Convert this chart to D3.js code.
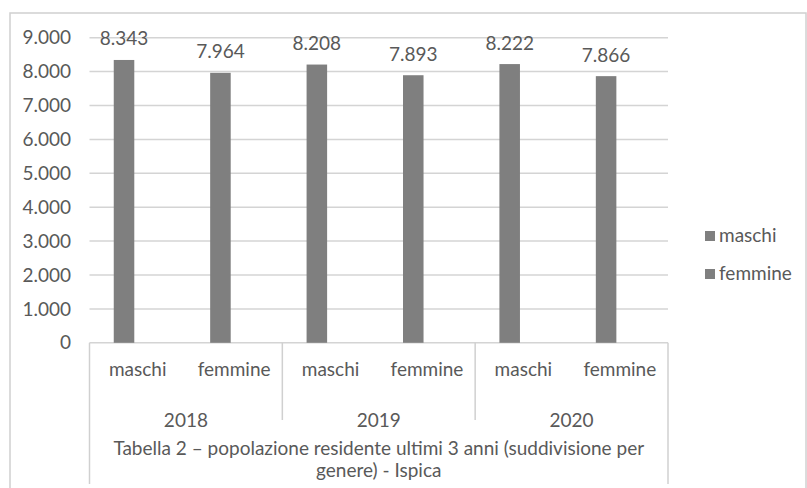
<!DOCTYPE html>
<html>
<head>
<meta charset="utf-8">
<script src="https://cdn.jsdelivr.net/npm/d3@7"></script>
<style>
    body { margin: 0; background: #fff; }
    svg text { font-family: Lato, "Open Sans", sans-serif; fill: #595959; }
</style>
</head>
<body>
<svg id="chart" width="807" height="488"></svg>
<script>
// data
var years = ["2018", "2019", "2020"];
var sexes = ["maschi", "femmine"];
var values2018 = [8343, 7964];
var values2019 = [8208, 7893];
var values2020 = [8222, 7866];
var yTicks = [0, 1000, 2000, 3000, 4000, 5000, 6000, 7000, 8000, 9000];
var titleLines = ["Tabella 2 \u2013 popolazione residente ultimi 3 anni (suddivisione per", "genere) - Ispica"];

var rows = [];
[values2018, values2019, values2020].forEach(function (vals, i) {
    vals.forEach(function (v, j) {
        rows.push({ year: years[i], sex: sexes[j], value: v });
    });
});

var svg = d3.select('#chart');
var fmt = d3.formatLocale({ decimal: ",", thousands: ".", grouping: [3], currency: ["", ""] }).format(",d");

var plotLeft = 89.5, plotRight = 668, plotTop = 37.7, plotBottom = 342.8;
var fontSize = 19;

var y = d3.scaleLinear()
    .domain([0, 9000])
    .range([plotBottom, plotTop]);
var x0 = d3.scaleBand()
    .domain(years)
    .range([plotLeft, plotRight]);
var x1 = d3.scaleBand()
    .domain(sexes)
    .range([0, x0.bandwidth()]);

var bw = x1.bandwidth();
var barW = bw * 0.213;
var barCenter = function (d) { return x0(d.year) + x1(d.sex) + bw * 0.358; };

// outer frame
svg.append('rect')
    .attr('x', 10).attr('y', 13)
    .attr('width', 796).attr('height', 500)
    .attr('fill', 'none')
    .attr('stroke', '#d0d0d0')
    .attr('stroke-width', 1.5);

// gridlines
svg.append('g')
    .selectAll('line')
    .data(yTicks)
    .join('line')
    .attr('x1', plotLeft).attr('x2', plotRight)
    .attr('y1', d => y(d)).attr('y2', d => y(d))
    .attr('stroke', '#d4d4d4')
    .attr('stroke-width', 1.5);

// y labels
svg.append('g')
    .selectAll('text')
    .data(yTicks)
    .join('text')
    .attr('x', 71)
    .attr('y', d => y(d))
    .attr('dy', '0.35em')
    .attr('text-anchor', 'end')
    .style('font-size', fontSize + 'px')
    .text(d => fmt(d));

// bars
svg.append('g')
    .selectAll('rect')
    .data(rows)
    .join('rect')
    .attr('x', d => barCenter(d) - barW / 2)
    .attr('y', d => y(d.value))
    .attr('width', barW)
    .attr('height', d => y(0) - y(d.value))
    .attr('fill', '#7f7f7f');

// value labels
svg.append('g')
    .selectAll('text')
    .data(rows)
    .join('text')
    .attr('x', d => barCenter(d))
    .attr('y', d => y(d.value) - 14.5)
    .attr('text-anchor', 'middle')
    .style('font-size', fontSize + 'px')
    .text(d => fmt(d.value));

// category axis boxes
var axis = svg.append('g')
    .attr('stroke', '#d0d0d0')
    .attr('stroke-width', 1.5);
axis.append('line')
    .attr('x1', plotLeft).attr('x2', plotLeft)
    .attr('y1', plotBottom).attr('y2', 484);
axis.append('line')
    .attr('x1', plotRight).attr('x2', plotRight)
    .attr('y1', plotBottom).attr('y2', 484);
axis.selectAll('line.div')
    .data(years.slice(1))
    .join('line')
    .attr('class', 'div')
    .attr('x1', d => x0(d)).attr('x2', d => x0(d))
    .attr('y1', plotBottom).attr('y2', 420);

// sex labels
svg.append('g')
    .selectAll('text')
    .data(rows)
    .join('text')
    .attr('x', d => x0(d.year) + x1(d.sex) + bw / 2)
    .attr('y', 376)
    .attr('text-anchor', 'middle')
    .style('font-size', fontSize + 'px')
    .text(d => d.sex);

// year labels
svg.append('g')
    .selectAll('text')
    .data(years)
    .join('text')
    .attr('x', d => x0(d) + x0.bandwidth() / 2)
    .attr('y', 427)
    .attr('text-anchor', 'middle')
    .style('font-size', fontSize + 'px')
    .text(d => d);

// title under the axis
svg.append('g')
    .selectAll('text')
    .data(titleLines)
    .join('text')
    .attr('x', (plotLeft + plotRight) / 2)
    .attr('y', (d, i) => 455 + i * 22)
    .attr('text-anchor', 'middle')
    .style('font-size', fontSize + 'px')
    .text(d => d);

// legend
var legend = svg.append('g')
    .selectAll('g')
    .data(sexes)
    .join('g')
    .attr('transform', (d, i) => 'translate(705,' + (231 + i * 38) + ')');
legend.append('rect')
    .attr('width', 10).attr('height', 10)
    .attr('fill', '#7f7f7f');
legend.append('text')
    .attr('x', 14)
    .attr('y', 11)
    .style('font-size', fontSize + 'px')
    .text(d => d);
</script>
</body>
</html>
